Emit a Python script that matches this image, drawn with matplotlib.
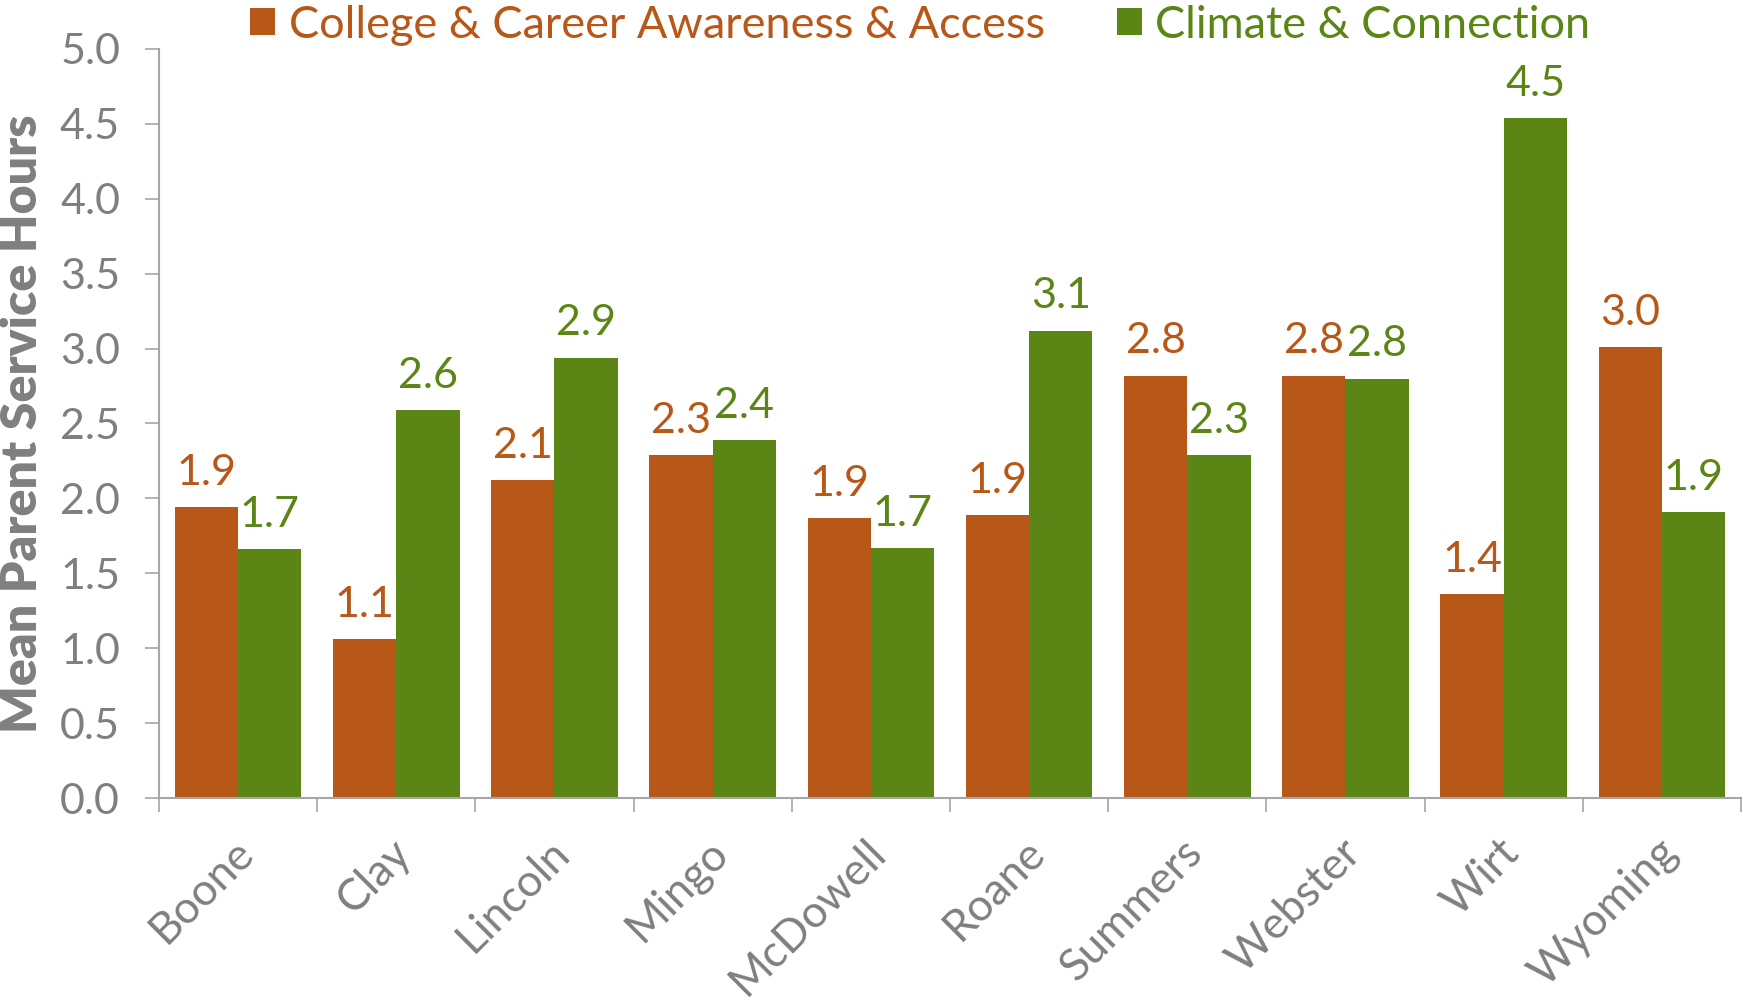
import numpy as np
import matplotlib
matplotlib.use("Agg")
import matplotlib.pyplot as plt
import matplotlib.transforms as mtransforms

counties = ["Boone", "Clay", "Lincoln", "Mingo", "McDowell",
            "Roane", "Summers", "Webster", "Wirt", "Wyoming"]
college = [1.94, 1.06, 2.12, 2.29, 1.87, 1.89, 2.82, 2.82, 1.36, 3.01]
climate = [1.66, 2.59, 2.94, 2.39, 1.67, 3.12, 2.29, 2.80, 4.54, 1.91]
series_names = ["College & Career Awareness & Access", "Climate & Connection"]

orange = "#B85818"
green = "#5B8615"
grey = "#7F7F7F"
axis_grey = "#A6A6A6"

plt.rcParams["font.family"] = ["Lato", "DejaVu Sans"]

fig = plt.figure(figsize=(17.43, 10), dpi=100)
ax = fig.add_axes([0.0912, 0.202, 0.9076, 0.749])

x = np.arange(len(counties))
w = 0.4
b1 = ax.bar(x - w / 2, college, w, color=orange, label=series_names[0])
b2 = ax.bar(x + w / 2, climate, w, color=green, label=series_names[1])

for bars, col in [(b1, orange), (b2, green)]:
    for r in bars:
        h = r.get_height()
        ax.annotate(f"{h:.1f}", (r.get_x() + r.get_width() / 2, h),
                    xytext=(0, 11), textcoords="offset points",
                    ha="center", va="bottom", fontsize=31, color=col)

ax.set_xlim(-0.5, len(counties) - 0.5)
ax.set_ylim(0, 5)
ax.set_yticks(np.arange(0, 5.01, 0.5))
ax.set_yticklabels([f"{v:.1f}" for v in np.arange(0, 5.01, 0.5)])

# category ticks sit between the groups
ax.set_xticks(np.arange(-0.5, len(counties), 1.0))
ax.set_xticklabels([])
ax.set_xticks(x, minor=True)
ax.set_xticklabels(counties, minor=True, rotation=45, ha="right",
                   rotation_mode="anchor", fontsize=32, color=grey)
ax.tick_params(axis="x", which="minor", length=0, pad=24)
ax.tick_params(axis="x", which="major", length=10, width=1.2, color=axis_grey)
ax.tick_params(axis="y", length=10, width=1.2, color=axis_grey, pad=18,
               labelsize=31, labelcolor=grey)

shift = mtransforms.ScaledTranslation(-4 / 72, 0, fig.dpi_scale_trans)
for lab in ax.get_xticklabels(minor=True):
    lab.set_transform(lab.get_transform() + shift)

for s in ["top", "right"]:
    ax.spines[s].set_visible(False)
for s in ["left", "bottom"]:
    ax.spines[s].set_color(axis_grey)
    ax.spines[s].set_linewidth(1.5)

ax.set_ylabel("Mean Parent Service Hours", fontsize=36, fontweight="heavy",
              color=grey)
ax.yaxis.set_label_coords(-0.072, 0.5)

leg = fig.legend(loc="center", bbox_to_anchor=(0.528, 0.975), ncol=2,
                 frameon=False, fontsize=32.5, handlelength=0.55,
                 handleheight=0.55, handletextpad=0.3, columnspacing=1.6)
for t, c in zip(leg.get_texts(), [orange, green]):
    t.set_color(c)

fig.savefig("out.png", dpi=100)
